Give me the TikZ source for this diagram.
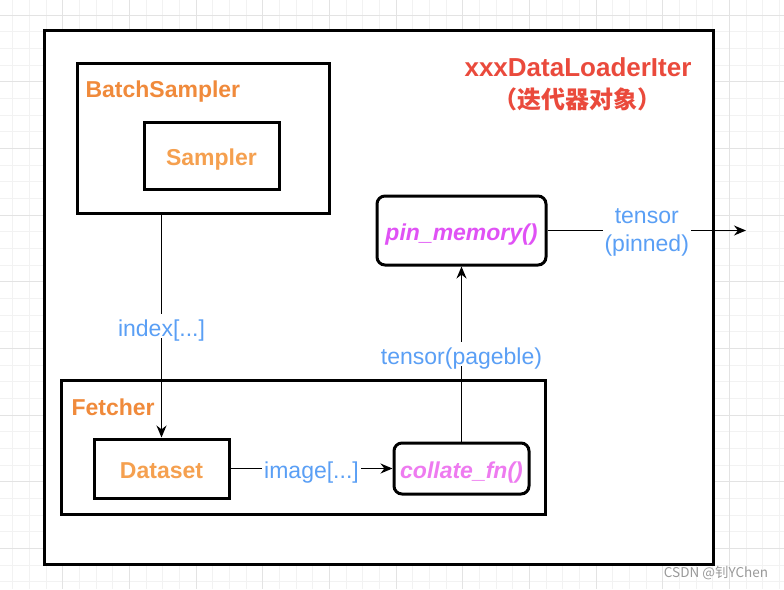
\documentclass[tikz,border=0pt]{standalone}
\usepackage{fontspec}
\setmainfont{Liberation Sans}
\newfontfamily\cjkfont{Noto Sans CJK SC}
\usepackage{tikz}
\usetikzlibrary{arrows.meta}

\definecolor{boxorange}{HTML}{F08A3B}
\definecolor{lightorange}{HTML}{F5A04F}
\definecolor{titlered}{HTML}{EA4A3C}
\definecolor{edgeblue}{HTML}{5A9FF5}
\definecolor{pinmagenta}{HTML}{E052F5}
\definecolor{collmagenta}{HTML}{EE7BF0}

\tikzset{
  big/.style={font=\fontsize{23}{28}\selectfont, text height=20pt, text depth=0pt},
  box/.style={draw, line width=3pt, inner sep=0pt},
  funcbox/.style={box, fill=white, rounded corners=8pt},
  edgelabel/.style={big, text=edgeblue, fill=white, inner sep=2pt, align=center},
  flow/.style={line width=1.3pt, -{Stealth[length=12pt, width=10pt]}},
  gridminor/.style={line width=0.6pt, gray!10},
  gridmajor/.style={line width=0.8pt, gray!22},
}

\begin{document}
\begin{tikzpicture}[x=1pt, y=-1pt]
      \useasboundingbox (0,0) rectangle (784,589);
      % Background grid
      \begin{scope}
      \clip (0,0) rectangle (784,589);
      \foreach \i in {0,...,48}
        \draw[gridminor] ({-4+16.667*\i},0) -- ({-4+16.667*\i},589);
      \foreach \j in {0,...,36}
        \draw[gridminor] (0,{-1.667+16.667*\j}) -- (784,{-1.667+16.667*\j});
      \foreach \i in {0,...,12}
        \draw[gridmajor] ({-4+66.667*\i},0) -- ({-4+66.667*\i},589);
      \foreach \j in {0,...,8}
        \draw[gridmajor] (0,{15+66.667*\j}) -- (784,{15+66.667*\j});
      \end{scope}
      % Iterator object
      \node[box, fill=white, minimum width=669pt, minimum height=534pt]
      (iter) at (378.5,297) {};
      \node[text=titlered, font=\fontsize{26}{30}\selectfont\bfseries]
      (title) at (578,67) {xxxDataLoaderIter};
      \node[text=titlered, font=\fontsize{24}{28}\selectfont\cjkfont\bfseries]
      (subtitle) at (577,99) {（迭代器对象）};
      % Sampling
      \node[box, minimum width=252pt, minimum height=150pt]
      (batch) at (203,138) {};
      \node[text=boxorange, font=\fontsize{23}{27}\selectfont\bfseries,
      anchor=west] (batchlabel) at (82,92) {BatchSampler};
      \node[box, minimum width=135pt, minimum height=67pt, big,
      text=lightorange, font=\fontsize{23}{27}\selectfont\bfseries]
      (sampler) at (211.5,155.5) {Sampler};
      % Fetching
      \node[box, minimum width=484pt, minimum height=134pt]
      (fetcher) at (303,447) {};
      \node[text=boxorange, font=\fontsize{23}{27}\selectfont\bfseries,
      anchor=west] (fetcherlabel) at (68,407) {Fetcher};
      \node[box, minimum width=135pt, minimum height=59pt, big,
      text=lightorange, font=\fontsize{23}{27}\selectfont\bfseries]
      (dataset) at (161.5,468.5) {Dataset};
      \node[funcbox, minimum width=135pt, minimum height=51pt, big,
      text=collmagenta, font=\fontsize{23}{27}\selectfont\bfseries\itshape]
      (collate) at (461.5,468.5) {collate\_fn()};
      % Pinning
      \node[funcbox, minimum width=169pt, minimum height=69pt, big,
      text=pinmagenta, font=\fontsize{23}{27}\selectfont\bfseries\itshape]
      (pin) at (461.5,230.5) {pin\_memory()};
      \coordinate (out) at (746,230.5);
      % Arrows
      \draw[flow] (dataset.north |- batch.south) -- (dataset.north)
      node[edgelabel, midway] {index[...]};
      \draw[flow] (dataset) -- (collate)
      node[edgelabel, midway] {image[...]};
      \draw[flow] (collate) -- (pin)
      node[edgelabel, midway] {tensor(pageble)};
      \draw[flow] (pin) -- (out)
      node[edgelabel, midway, text height=, text depth=, yshift=-2pt]
      {tensor\\(pinned)};
      % Watermark
      \node[text=gray!80, font=\fontsize{13.5}{16}\selectfont\cjkfont]
      (mark) at (716,573) {CSDN @钊YChen};
\end{tikzpicture}
\end{document}
